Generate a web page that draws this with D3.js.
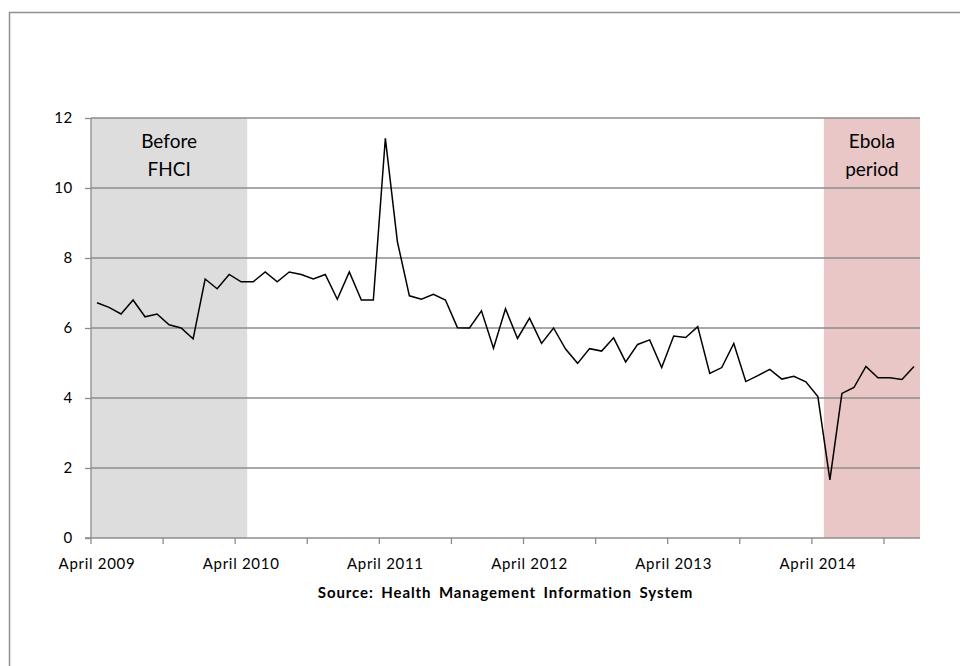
<!DOCTYPE html>
<html lang="en">
<head>
    <meta charset="UTF-8">
    <title>Monthly rate, April 2009 - December 2014</title>
    <script src="https://d3js.org/d3.v7.min.js"></script>
    <style>
        body {
            margin: 0;
            background-color: #fff;
            font-family: Lato, "Open Sans", sans-serif;
        }
        .grid line {
            stroke: #8c8c8c;
            stroke-width: 1.3px;
        }
        .axis text {
            font-family: Lato, "Open Sans", sans-serif;
            font-size: 15px;
            letter-spacing: 0.7px;
            fill: #000;
        }
        .axis path, .axis line {
            stroke: #8c8c8c;
            stroke-width: 1.3px;
        }
        .band-label {
            font-size: 19px;
            fill: #000;
            text-anchor: middle;
        }
        .source {
            font-size: 15px;
            font-weight: bold;
            letter-spacing: 0.9px;
            word-spacing: 3px;
        }
    </style>
</head>
<body>
    <svg id="chart" width="960" height="666"></svg>
    <script>
        // Monthly series, April 2009 through December 2014
        const values = [
            6.72, 6.59, 6.40, 6.80, 6.32, 6.40, 6.09, 6.00, 5.69, 7.40, 7.12, 7.53, 7.32,
            7.32, 7.60, 7.32, 7.60, 7.53, 7.40, 7.53, 6.82, 7.60, 6.80, 6.80,
            11.42, 8.47, 6.92, 6.82, 6.96, 6.80, 6.01, 6.00, 6.49, 5.42, 6.55, 5.70,
            6.28, 5.56, 6.00, 5.40, 4.99, 5.41, 5.34, 5.72, 5.03, 5.53, 5.66, 4.87,
            5.77, 5.73, 6.04, 4.70, 4.87, 5.56, 4.47, 4.64, 4.82, 4.54, 4.62, 4.46,
            4.04, 1.66, 4.13, 4.30, 4.90, 4.58, 4.58, 4.53, 4.90
        ];
        const yTicks = [0, 2, 4, 6, 8, 10, 12];
        const xTickLabels = ["April 2009", "April 2010", "April 2011", "April 2012", "April 2013", "April 2014"];
        // shaded periods, as [first month index, last month index]
        const periods = [
            { label: ["Before", "FHCI"], from: 0, to: 12, color: "#dddddd" },
            { label: ["Ebola", "period"], from: 61, to: 68, color: "#e9c7c7" }
        ];
        const source = "Source: Health Management Information System";

        const svg = d3.select("#chart");
        const plotL = 91, plotR = 920, plotT = 118, plotB = 538;

        const x = d3.scaleBand().domain(d3.range(values.length)).range([plotL, plotR]).padding(0);
        const y = d3.scaleLinear().domain([0, 12]).range([plotB, plotT]);

        // frame (only top and left edges are inside the picture)
        svg.append("path")
            .attr("d", "M9.5,666V12.5H960")
            .attr("fill", "none")
            .attr("stroke", "#8f8f8f")
            .attr("stroke-width", 1.5);

        // shaded periods
        svg.selectAll(".period")
            .data(periods)
            .enter()
            .append("rect")
            .attr("class", "period")
            .attr("x", d => x(d.from))
            .attr("width", d => x(d.to) + x.bandwidth() - x(d.from))
            .attr("y", y(12))
            .attr("height", y(0) - y(12))
            .attr("fill", d => d.color);

        // horizontal gridlines
        svg.append("g")
            .attr("class", "grid")
            .selectAll("line")
            .data(yTicks.filter(t => t > 0))
            .enter()
            .append("line")
            .attr("x1", plotL)
            .attr("x2", plotR)
            .attr("y1", d => y(d))
            .attr("y2", d => y(d));

        // period labels
        periods.forEach(p => {
            const cx = (x(p.from) + x(p.to) + x.bandwidth()) / 2;
            const t = svg.append("text").attr("class", "band-label");
            p.label.forEach((line, i) => {
                t.append("tspan")
                    .attr("x", cx)
                    .attr("y", 148 + i * 28)
                    .text(line);
            });
        });

        // y axis
        const yAxis = svg.append("g")
            .attr("class", "axis")
            .attr("transform", `translate(${plotL},0)`)
            .call(d3.axisLeft(y).tickValues(yTicks).tickFormat(d3.format("d")).tickSize(6).tickPadding(12));
        yAxis.select(".domain").attr("d", `M0,${plotT}V${plotB}`);

        // x axis: tick marks every 6 months at category boundaries, labels every 12
        const xAxis = svg.append("g")
            .attr("class", "axis")
            .attr("transform", `translate(0,${plotB})`);
        xAxis.append("line")
            .attr("x1", plotL - 6)
            .attr("x2", plotR)
            .attr("y1", 0)
            .attr("y2", 0);
        xAxis.selectAll(".tick-mark")
            .data(d3.range(0, values.length, 6))
            .enter()
            .append("line")
            .attr("class", "tick-mark")
            .attr("x1", d => x(d))
            .attr("x2", d => x(d))
            .attr("y1", 0)
            .attr("y2", 6);
        xAxis.selectAll(".tick-label")
            .data(xTickLabels)
            .enter()
            .append("text")
            .attr("class", "tick-label")
            .attr("x", (d, i) => x(i * 12) + x.bandwidth() / 2)
            .attr("y", 31)
            .attr("text-anchor", "middle")
            .text(d => d);

        // the series
        const line = d3.line()
            .x((d, i) => x(i) + x.bandwidth() / 2)
            .y(d => y(d));
        svg.append("path")
            .datum(values)
            .attr("fill", "none")
            .attr("stroke", "#000")
            .attr("stroke-width", 1.5)
            .attr("stroke-linejoin", "miter")
            .attr("d", line);

        // source note
        svg.append("text")
            .attr("class", "source")
            .attr("x", (plotL + plotR) / 2)
            .attr("y", 598)
            .attr("text-anchor", "middle")
            .text(source);
    </script>
</body>
</html>
